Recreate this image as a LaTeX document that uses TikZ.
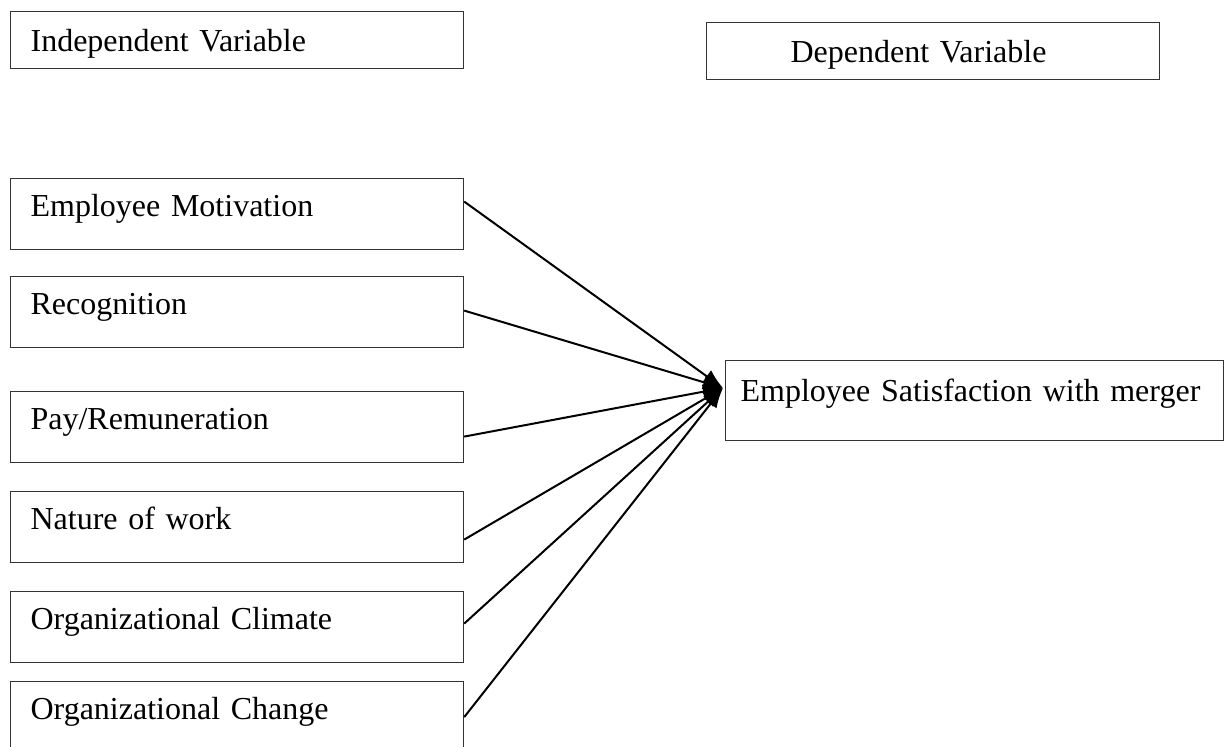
\documentclass[tikz,border=0pt]{standalone}
\usepackage{fontspec}
\setmainfont{Liberation Serif}
\usepackage{xcolor}
\usepackage{tikz}
\usetikzlibrary{arrows.meta}

\tikzset{
  varbox/.style={draw=black!80, line width=0.6pt, anchor=north west,
    minimum width=226.5pt, minimum height=35.5pt, inner ysep=0pt},
  headbox/.style={varbox, minimum height=28.5pt,
    text height=1.15em, text depth=0.05em},
  factor/.style={varbox, inner xsep=10pt, text width=206.5pt, align=left,
    text height=0.75em, text depth=0.53em},
  link/.style={line width=1pt, -{Latex[length=10pt,width=7.5pt]}}
}

\begin{document}
\begin{tikzpicture}[x=0.5pt, y=-0.5pt, font=\fontsize{16}{19}\selectfont]
    \useasboundingbox (0,0) rectangle (1229,747);
    % headings
    \node[headbox, inner xsep=10pt, text width=206.5pt, align=left] (ind) at (10,11) {Independent Variable};
    \node[headbox, inner xsep=42pt, text width=142.5pt, align=left] (dep) at (706,22) {Dependent Variable};
    % independent variables
    \node[factor] (mot)  at (10,178) {Employee Motivation};
    \node[factor] (rec)  at (10,276) {Recognition};
    \node[factor] (pay)  at (10,391) {Pay/Remuneration};
    \node[factor] (nat)  at (10,491) {Nature of work};
    \node[factor] (clim) at (10,591) {Organizational Climate};
    \node[factor] (chg)  at (10,681) {Organizational Change};
    % dependent variable
    \node[varbox, minimum width=249pt, minimum height=40pt, inner xsep=7.5pt,
      text width=234pt, align=left, text height=0.7em, text depth=0.6em]
      (sat) at (725,360) {Employee Satisfaction with merger};
    \coordinate (hub) at (723,388);
    % arrows into the outcome
    \draw[link] ([yshift=6.25pt]mot.east) -- (hub);
    \draw[link] ([yshift=0.75pt]rec.east) -- (hub);
    \draw[link] ([yshift=-4.75pt]pay.east) -- (hub);
    \draw[link] ([yshift=-6.25pt]nat.east) -- (hub);
    \draw[link] ([yshift=1.75pt]clim.east) -- (hub);
    \draw[link] (chg.east) -- (hub);
\end{tikzpicture}
\end{document}
